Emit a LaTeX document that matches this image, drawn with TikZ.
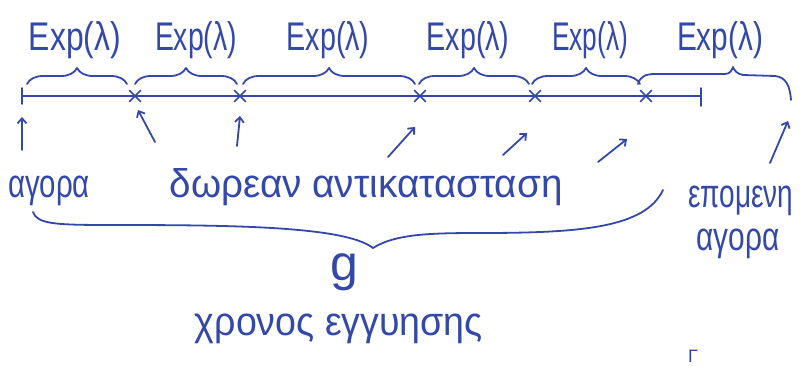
\documentclass[tikz,border=0pt]{standalone}
\usepackage{fontspec}
\setmainfont{Liberation Sans}
\usepackage{graphicx}
\usetikzlibrary{arrows.meta,decorations.pathreplacing,shapes.misc}
\definecolor{ink}{RGB}{52,72,170}
% set text to a given width, keeping its natural height
\newcommand{\hw}[2]{\resizebox{#1}{\height}{#2}}

\begin{document}
\begin{tikzpicture}[x=1pt,y=-1pt,
  pen/.style={draw=ink, line width=1.8pt, line cap=round, line join=round},
  txt/.style={text=ink, font=\fontsize{40}{40}\selectfont, inner sep=0pt, anchor=base},
  upbrace/.style={pen, decorate, decoration={brace, amplitude=16pt}},
  pointer/.style={pen, -{Straight Barb[length=5pt,width=9pt]}},
  event/.style={cross out, draw=ink, line width=1.6pt, minimum size=10pt, inner sep=0pt}]

\fill[white] (0,0) rectangle (801,367);
\useasboundingbox (0,0) rectangle (801,367);

% time axis with renewal events
\coordinate (t0) at (22,96);
\node[event] (t1) at (135,96) {};
\node[event] (t2) at (240,96) {};
\node[event] (t3) at (420,96) {};
\node[event] (t4) at (535,96) {};
\node[event] (t5) at (646,96) {};
\coordinate (t6) at (701,96);
\draw[pen] (t0) -- (t6);
\draw[pen] ([yshift=8pt]t0) -- ([yshift=-8pt]t0);
\draw[pen] ([yshift=8pt]t6) -- ([yshift=-10pt]t6);

% interarrival braces
\draw[upbrace] (27,84) -- (127,84);
\draw[upbrace] (135,84) -- (237,84);
\draw[upbrace] (243,84) -- (415,84);
\draw[upbrace] (419,84) -- (529,84);
\draw[upbrace] (532,84) -- (640,84);
\draw[pen] (638,84) .. controls (640,77) and (645,74) .. (655,74) -- (725,74)
  .. controls (730,74) and (732,70) .. (733,67)
  .. controls (734,70) and (737,74) .. (743,75) -- (775,76)
  .. controls (786,77) and (790,86) .. (791,100);

% interarrival labels
\node[txt] (e1) at (75,50) {\hw{92pt}{Exp(λ)}};
\node[txt] (e2) at (196,50) {\hw{82pt}{Exp(λ)}};
\node[txt] (e3) at (328,50) {\hw{83pt}{Exp(λ)}};
\node[txt] (e4) at (468,50) {\hw{83pt}{Exp(λ)}};
\node[txt] (e5) at (590,50) {\hw{76pt}{Exp(λ)}};
\node[txt] (e6) at (720,50) {\hw{86pt}{Exp(λ)}};

% event labels
\node[txt] (buy) at (49,197) {\hw{82pt}{αγορα}};
\node[txt] (free) at (366,197) {\hw{393pt}{δωρεαν αντικατασταση}};
\node[txt] (next) at (741,207) {\hw{105pt}{επομενη}};
\node[txt] (next2) at (738,250) {\hw{83pt}{αγορα}};

% pointers to the events
\coordinate (p1s) at (22,150);  \coordinate (p1e) at (22,117);
\coordinate (p2s) at (155,142); \coordinate (p2e) at (138,110);
\coordinate (p3s) at (237,146); \coordinate (p3e) at (240,116);
\coordinate (p4s) at (388,157); \coordinate (p4e) at (415,127);
\coordinate (p5s) at (503,155); \coordinate (p5e) at (527,133);
\coordinate (p6s) at (598,162); \coordinate (p6e) at (627,139);
\coordinate (p7s) at (770,163); \coordinate (p7e) at (788,121);
\foreach \i in {1,...,7} \draw[pointer] (p\i s) -- (p\i e);

% warranty period brace
\draw[pen] (33,212) .. controls (37,224) and (55,225) .. (110,225)
  .. controls (230,225) and (345,226) .. (373,248)
  .. controls (395,234) and (430,233) .. (480,233)
  .. controls (580,233) and (645,228) .. (663,190);
\node[txt, font=\fontsize{50}{50}\selectfont] (g) at (344,280) {g};
\node[txt] (warranty) at (339,335) {\hw{288pt}{χρονος εγγυησης}};

% small letter near the lower edge
\node[txt, anchor=base west, font=\fontsize{18}{18}\selectfont] (corner) at (688,362) {Γ};
\end{tikzpicture}
\end{document}
